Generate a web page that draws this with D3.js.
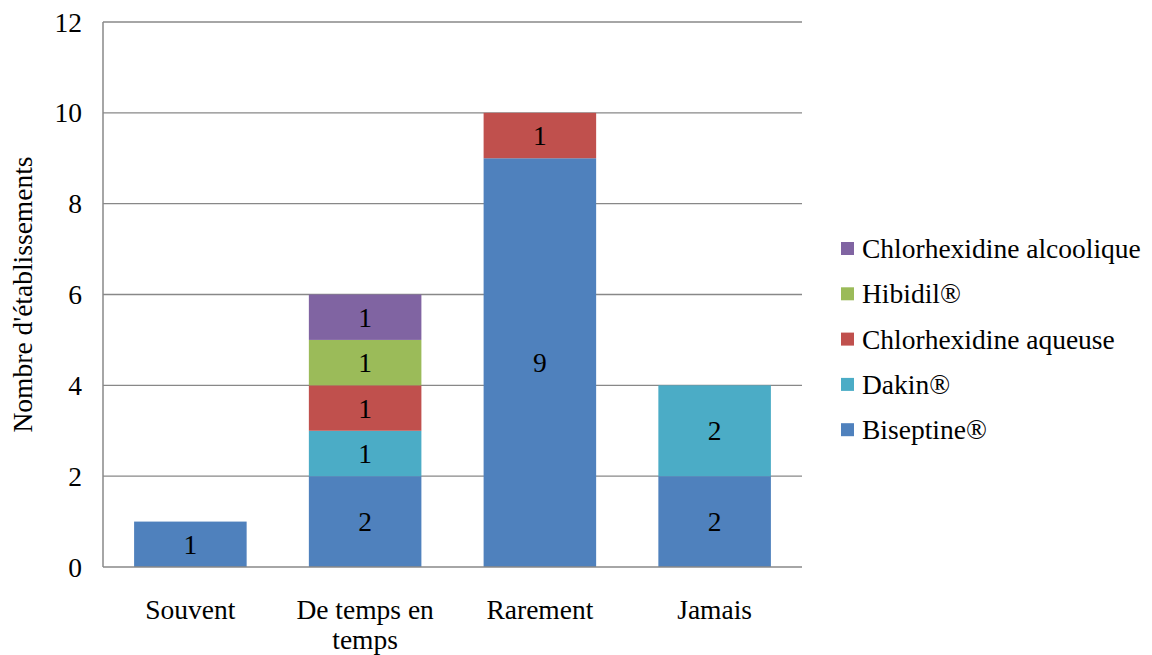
<!DOCTYPE html>
<html><head><meta charset="utf-8">
<script src="https://cdn.jsdelivr.net/npm/d3@7"></script>
</head><body style="margin:0">
<script>
const categories = ["Souvent", "De temps en temps", "Rarement", "Jamais"];
const categoryLines = [["Souvent"], ["De temps en", "temps"], ["Rarement"], ["Jamais"]];
const seriesNames = ["Biseptine®", "Dakin®", "Chlorhexidine aqueuse", "Hibidil®", "Chlorhexidine alcoolique"];
const biseptine = [1, 2, 9, 2];
const dakin = [0, 1, 0, 2];
const chlorAqueuse = [0, 1, 1, 0];
const hibidil = [0, 1, 0, 0];
const chlorAlcoolique = [0, 1, 0, 0];
const colors = ["#4F81BD", "#4BACC6", "#C0504D", "#9BBB59", "#8064A2"];
const yTicks = [0, 2, 4, 6, 8, 10, 12];

const FS = 27.5;
const W = 1152, H = 655;
const m = {left: 103, right: 350, top: 22, bottom: 88};
const svg = d3.select("body").append("svg").attr("width", W).attr("height", H).style("display", "block");
function txt(sel) { return sel.append("text").attr("font-size", FS).style("font-family", `"Liberation Serif"`); }

const x = d3.scaleBand().domain(categories).range([m.left, W - m.right]).paddingInner(0.356).paddingOuter(0.178);
const y = d3.scaleLinear().domain([0, 12]).range([H - m.bottom, m.top]);

svg.append("g").selectAll("line").data(yTicks.filter(d => d > 0)).join("line")
  .attr("x1", m.left).attr("x2", W - m.right)
  .attr("y1", d => y(d)).attr("y2", d => y(d))
  .attr("stroke", "#888").attr("stroke-width", 1.3);

const seriesVals = [biseptine, dakin, chlorAqueuse, hibidil, chlorAlcoolique];
const table = categories.map((c, i) => {
  const o = {cat: c};
  seriesNames.forEach((s, j) => o[s] = seriesVals[j][i]);
  return o;
});
const stacked = d3.stack().keys(seriesNames)(table);

const gBars = svg.append("g");
stacked.forEach((layer, j) => {
  layer.forEach((d, i) => {
    const v = d[1] - d[0];
    if (v <= 0) return;
    gBars.append("rect")
      .attr("x", x(categories[i])).attr("width", x.bandwidth())
      .attr("y", y(d[1])).attr("height", y(d[0]) - y(d[1]))
      .attr("fill", colors[j]);
    txt(gBars)
      .attr("x", x(categories[i]) + x.bandwidth() / 2)
      .attr("y", (y(d[0]) + y(d[1])) / 2 + 9.5)
      .attr("text-anchor", "middle").text(v);
  });
});

svg.append("line").attr("x1", m.left).attr("x2", m.left).attr("y1", y(12)).attr("y2", y(0))
  .attr("stroke", "#888").attr("stroke-width", 1.5);
svg.append("line").attr("x1", m.left).attr("x2", W - m.right).attr("y1", y(0)).attr("y2", y(0))
  .attr("stroke", "#888").attr("stroke-width", 1.5);

const gY = svg.append("g");
yTicks.forEach(d => txt(gY).attr("x", 82).attr("y", y(d) + 9.5)
  .attr("text-anchor", "end").text(d));

categories.forEach((c, i) => {
  categoryLines[i].forEach((l, k) => txt(svg).attr("text-anchor", "middle")
    .attr("x", x(c) + x.bandwidth() / 2).attr("y", 619 + k * 30).text(l));
});

txt(svg).attr("transform", `translate(32,${(y(0) + y(12)) / 2}) rotate(-90)`)
  .attr("text-anchor", "middle").text("Nombre d'établissements");

const legendOrder = seriesNames.map((s, j) => j).reverse();
legendOrder.forEach((j, k) => {
  const cy = 248.5 + k * 45.3;
  svg.append("rect").attr("x", 841).attr("y", cy - 6.5).attr("width", 13).attr("height", 13).attr("fill", colors[j]);
  txt(svg).attr("x", 862).attr("y", cy + 9.5).text(seriesNames[j]);
});
</script>
</body></html>
